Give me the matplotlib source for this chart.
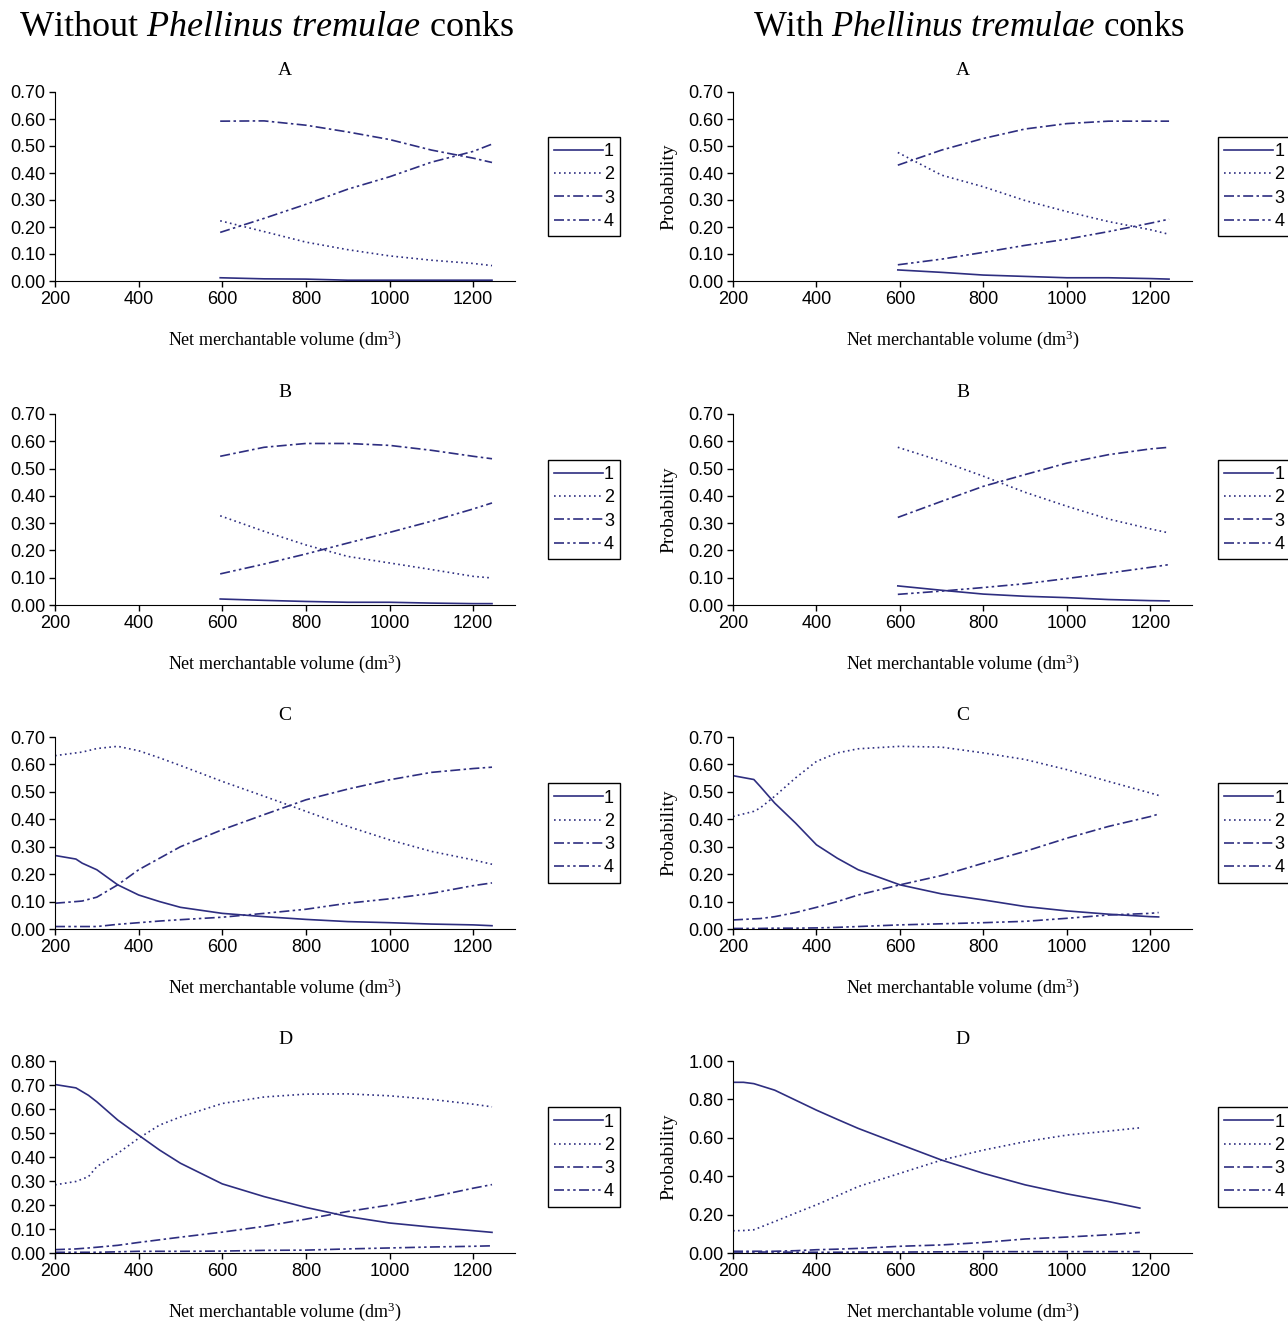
import matplotlib
matplotlib.use("Agg")
import matplotlib.pyplot as plt

plt.rcParams['font.family'] = 'Liberation Sans'
plt.rcParams['mathtext.fontset'] = 'custom'
plt.rcParams['mathtext.rm'] = 'Liberation Serif'
plt.rcParams['mathtext.it'] = 'Liberation Serif:italic'

# volumes (dm3) used in panels A and B
x_ab = [595, 700, 800, 900, 1000, 1100, 1200, 1245]

# left column: without conks
wo_a1 = [0.012, 0.008, 0.007, 0.003, 0.003, 0.003, 0.003, 0.003]
wo_a2 = [0.223, 0.183, 0.144, 0.116, 0.093, 0.077, 0.065, 0.057]
wo_a3 = [0.592, 0.593, 0.577, 0.552, 0.524, 0.485, 0.455, 0.439]
wo_a4 = [0.180, 0.232, 0.284, 0.340, 0.386, 0.440, 0.480, 0.507]

wo_b1 = [0.022, 0.017, 0.013, 0.010, 0.010, 0.007, 0.005, 0.005]
wo_b2 = [0.327, 0.270, 0.220, 0.178, 0.154, 0.130, 0.105, 0.099]
wo_b3 = [0.545, 0.578, 0.592, 0.592, 0.585, 0.567, 0.545, 0.536]
wo_b4 = [0.114, 0.150, 0.187, 0.227, 0.266, 0.307, 0.352, 0.374]

wo_c_x = [200, 250, 265, 300, 350, 400, 450, 500, 600, 700, 800, 900, 1000, 1100, 1200, 1245]
wo_c1 = [0.268, 0.255, 0.240, 0.216, 0.161, 0.124, 0.100, 0.079, 0.057, 0.045, 0.035, 0.027, 0.023, 0.018, 0.015, 0.012]
wo_c2 = [0.632, 0.642, 0.645, 0.658, 0.666, 0.650, 0.624, 0.596, 0.538, 0.484, 0.429, 0.374, 0.325, 0.283, 0.252, 0.236]
wo_c3 = [0.094, 0.100, 0.102, 0.116, 0.161, 0.216, 0.258, 0.300, 0.362, 0.417, 0.471, 0.510, 0.544, 0.571, 0.585, 0.590]
wo_c4 = [0.009, 0.009, 0.009, 0.009, 0.017, 0.023, 0.029, 0.034, 0.043, 0.057, 0.072, 0.094, 0.110, 0.130, 0.158, 0.168]

wo_d_x = [200, 250, 280, 300, 350, 400, 450, 500, 600, 700, 800, 900, 1000, 1100, 1200, 1245]
wo_d1 = [0.702, 0.688, 0.657, 0.630, 0.554, 0.491, 0.429, 0.374, 0.288, 0.235, 0.190, 0.152, 0.125, 0.108, 0.093, 0.086]
wo_d2 = [0.284, 0.298, 0.318, 0.360, 0.415, 0.478, 0.533, 0.567, 0.623, 0.650, 0.662, 0.663, 0.655, 0.640, 0.620, 0.609]
wo_d3 = [0.014, 0.017, 0.021, 0.024, 0.032, 0.044, 0.055, 0.066, 0.087, 0.111, 0.141, 0.173, 0.200, 0.233, 0.270, 0.285]
wo_d4 = [0.003, 0.003, 0.003, 0.003, 0.005, 0.007, 0.007, 0.007, 0.008, 0.011, 0.012, 0.017, 0.021, 0.025, 0.028, 0.030]

# right column: with conks
wi_a1 = [0.041, 0.032, 0.022, 0.017, 0.012, 0.012, 0.009, 0.007]
wi_a2 = [0.476, 0.392, 0.349, 0.298, 0.257, 0.220, 0.190, 0.173]
wi_a3 = [0.429, 0.485, 0.528, 0.563, 0.583, 0.592, 0.592, 0.592]
wi_a4 = [0.060, 0.081, 0.106, 0.132, 0.155, 0.183, 0.214, 0.229]

wi_b1 = [0.070, 0.054, 0.040, 0.032, 0.027, 0.020, 0.016, 0.015]
wi_b2 = [0.578, 0.527, 0.472, 0.413, 0.362, 0.315, 0.279, 0.264]
wi_b3 = [0.321, 0.380, 0.435, 0.478, 0.520, 0.551, 0.572, 0.578]
wi_b4 = [0.039, 0.051, 0.064, 0.078, 0.097, 0.117, 0.138, 0.148]

wi_c_x = [200, 250, 265, 300, 350, 400, 450, 500, 600, 700, 800, 900, 1000, 1100, 1200, 1220]
wi_c1 = [0.559, 0.545, 0.520, 0.459, 0.386, 0.307, 0.258, 0.216, 0.161, 0.128, 0.106, 0.082, 0.066, 0.054, 0.045, 0.044]
wi_c2 = [0.410, 0.429, 0.441, 0.484, 0.551, 0.611, 0.642, 0.657, 0.666, 0.663, 0.642, 0.618, 0.581, 0.538, 0.496, 0.487]
wi_c3 = [0.033, 0.037, 0.038, 0.045, 0.060, 0.079, 0.100, 0.124, 0.161, 0.195, 0.240, 0.283, 0.331, 0.374, 0.410, 0.419]
wi_c4 = [0.002, 0.002, 0.002, 0.003, 0.003, 0.004, 0.006, 0.009, 0.015, 0.019, 0.023, 0.028, 0.039, 0.051, 0.057, 0.060]

wi_d_x = [200, 225, 250, 300, 350, 400, 450, 500, 600, 700, 800, 900, 1000, 1100, 1175]
wi_d1 = [0.889, 0.889, 0.882, 0.848, 0.796, 0.744, 0.696, 0.649, 0.566, 0.484, 0.415, 0.355, 0.308, 0.268, 0.234]
wi_d2 = [0.116, 0.117, 0.121, 0.164, 0.208, 0.251, 0.298, 0.346, 0.415, 0.484, 0.536, 0.580, 0.614, 0.635, 0.652]
wi_d3 = [0.009, 0.009, 0.009, 0.009, 0.012, 0.017, 0.020, 0.024, 0.035, 0.042, 0.055, 0.073, 0.083, 0.095, 0.107]
wi_d4 = [0.005, 0.005, 0.005, 0.005, 0.004, 0.004, 0.004, 0.005, 0.005, 0.006, 0.007, 0.007, 0.007, 0.007, 0.007]

series_labels = ['1', '2', '3', '4']
panel_letters = ['A', 'B', 'C', 'D']

left_panels = [
    (x_ab, [wo_a1, wo_a2, wo_a3, wo_a4], 0.70),
    (x_ab, [wo_b1, wo_b2, wo_b3, wo_b4], 0.70),
    (wo_c_x, [wo_c1, wo_c2, wo_c3, wo_c4], 0.70),
    (wo_d_x, [wo_d1, wo_d2, wo_d3, wo_d4], 0.80),
]
right_panels = [
    (x_ab, [wi_a1, wi_a2, wi_a3, wi_a4], 0.70),
    (x_ab, [wi_b1, wi_b2, wi_b3, wi_b4], 0.70),
    (wi_c_x, [wi_c1, wi_c2, wi_c3, wi_c4], 0.70),
    (wi_d_x, [wi_d1, wi_d2, wi_d3, wi_d4], 1.00),
]

navy = '#2e2e80'
styles = ['-', (0, (1, 2)), (0, (6, 2, 1.5, 2)), (0, (6, 2, 1.5, 2, 1.5, 2))]

W, H = 1288, 1321
fig = plt.figure(figsize=(W / 100, H / 100), dpi=100)

# rows as (top, bottom) pixel positions of the plot area
rows = [(92, 281), (414, 605), (737, 929), (1061, 1253)]
cols = [(55, 515), (733, 1192)]


def draw_panel(ax, xs, ys, ymax, letter, prob_label, leg_x):
    for y, ls, lab in zip(ys, styles, series_labels):
        ax.plot(xs, y, color=navy, lw=1.2, ls=ls, label=lab)
    ax.set_xlim(200, 1300)
    ax.set_ylim(0, ymax)
    ax.set_xticks([200, 400, 600, 800, 1000, 1200])
    step = 0.2 if ymax > 0.9 else 0.1
    n = int(round(ymax / step))
    ax.set_yticks([i * step for i in range(n + 1)])
    ax.set_yticklabels(['%.2f' % (i * step) for i in range(n + 1)])
    ax.tick_params(labelsize=13, direction='out', length=4, width=1, pad=3)
    for s in ['top', 'right']:
        ax.spines[s].set_visible(False)
    ax.set_title(letter, family='Liberation Serif', fontsize=14, pad=12)
    ax.set_xlabel('Net merchantable volume (dm$^{3}$)', family='Liberation Serif',
                  fontsize=13, labelpad=15)
    if prob_label:
        ax.set_ylabel('Probability', family='Liberation Serif', fontsize=14, labelpad=8)
    leg = ax.legend(loc='center left', bbox_to_anchor=(leg_x, 0.5), fontsize=13,
                    handlelength=2.7, handletextpad=0.05, labelspacing=0.35,
                    borderpad=0.35, fancybox=False, edgecolor='black',
                    framealpha=1, borderaxespad=0)
    leg.get_frame().set_linewidth(1.0)


for c, panels in enumerate([left_panels, right_panels]):
    x0, x1 = cols[c]
    for r, (xs, ys, ymax) in enumerate(panels):
        top, bot = rows[r]
        ax = fig.add_axes([x0 / W, 1 - bot / H, (x1 - x0) / W, (bot - top) / H])
        draw_panel(ax, xs, ys, ymax, panel_letters[r], c == 1,
                   1.072 if c == 0 else 1.057)

fig.text(266 / W, 1 - 27 / H, r'Without $\mathit{Phellinus\ tremulae}$ conks',
         family='Liberation Serif', fontsize=26, ha='center', va='center')
fig.text(969 / W, 1 - 27 / H, r'With $\mathit{Phellinus\ tremulae}$ conks',
         family='Liberation Serif', fontsize=25, ha='center', va='center')

fig.savefig('out.png', dpi=100)
